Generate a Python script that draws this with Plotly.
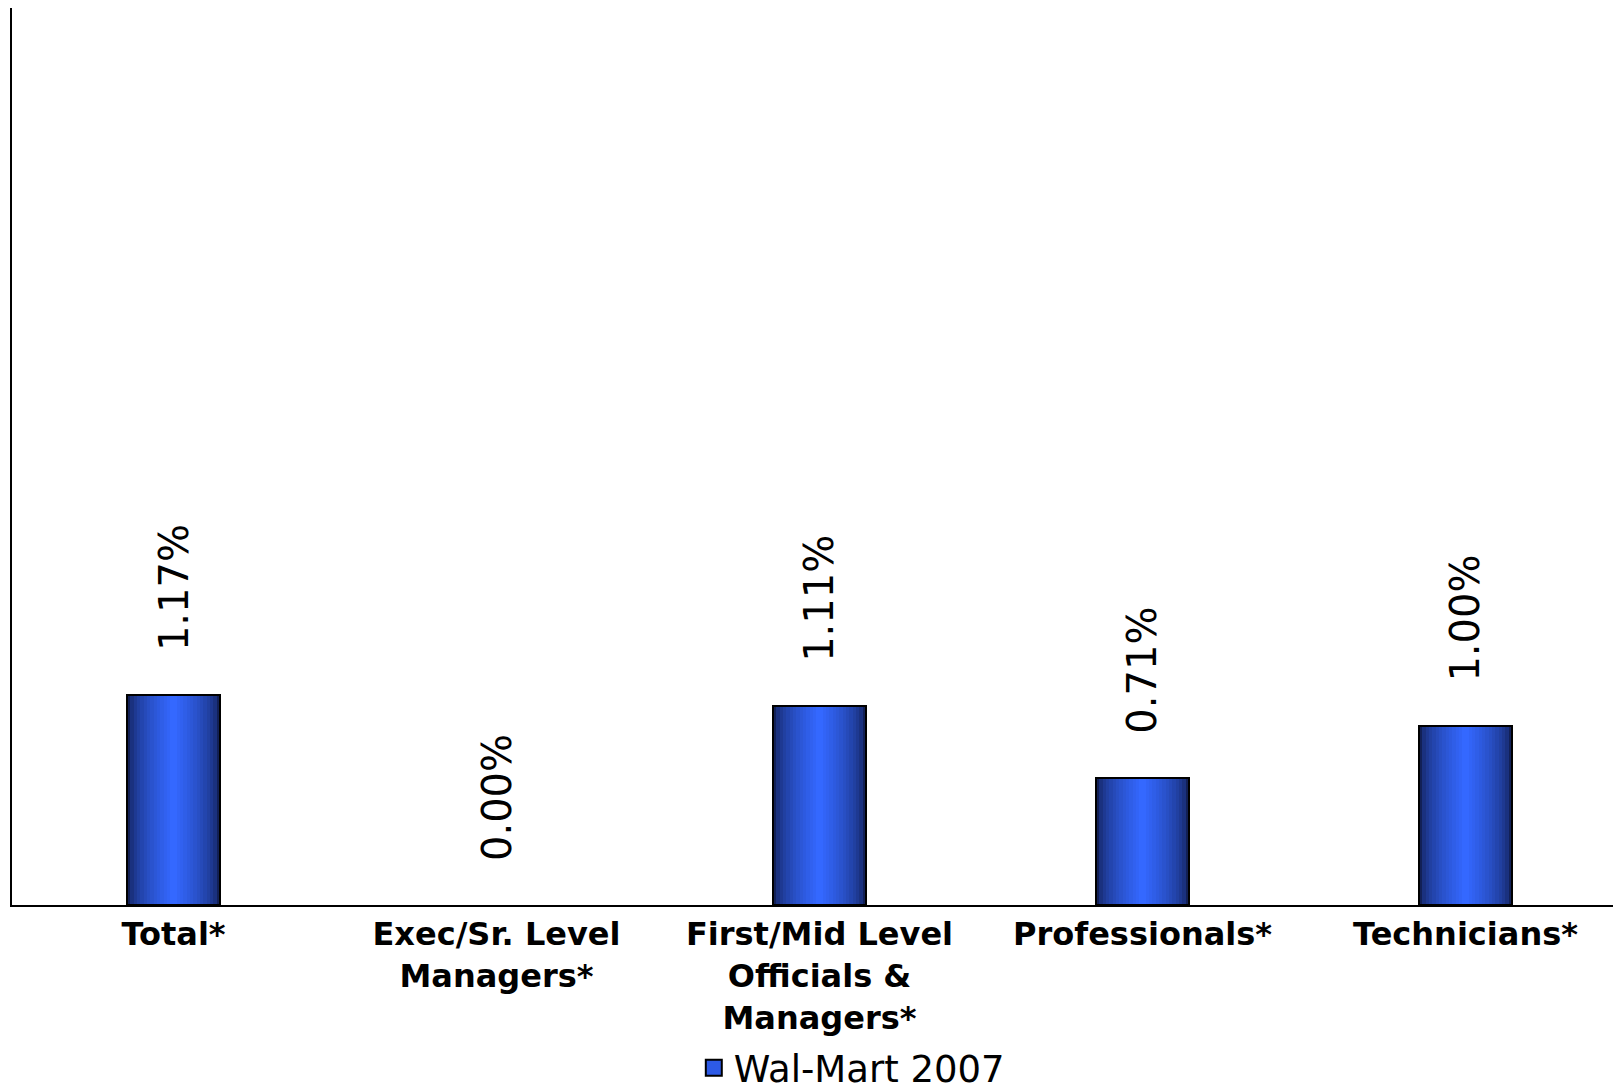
import plotly.graph_objects as go

categories = ["Total*", "Exec/Sr. Level<br>Managers*", "First/Mid Level<br>Officials &<br>Managers*",
              "Professionals*", "Technicians*"]
values = [1.17, 0.00, 1.11, 0.71, 1.00]
labels = ["1.17%", "0.00%", "1.11%", "0.71%", "1.00%"]
series_name = "Wal-Mart 2007"

FONT = "DejaVu Sans, Verdana, sans-serif"
BAR_W = 0.288
EDGE = (18, 32, 86)
CENTER = (52, 104, 255)
N = 14

fig = go.Figure()

# gradient layers (outer dark -> inner bright)
for k in range(N):
    t = k / (N - 1)
    e = t ** 0.55
    c = tuple(int(EDGE[i] + (CENTER[i] - EDGE[i]) * e) for i in range(3))
    fig.add_trace(go.Bar(
        x=categories, y=values, width=BAR_W * (1 - k / N),
        marker=dict(color="rgb(%d,%d,%d)" % c, line=dict(width=0)),
        showlegend=False, hoverinfo="skip"))

# outline (none for zero-height bars)
fig.add_trace(go.Bar(
    x=categories, y=values, width=BAR_W,
    marker=dict(color="rgba(0,0,0,0)",
                line=dict(color="black", width=[2 if v > 0 else 0 for v in values])),
    showlegend=False, hoverinfo="skip"))

# legend entry
fig.add_trace(go.Scatter(
    x=[None], y=[None], mode="markers", name=series_name,
    marker=dict(symbol="square", size=22, color="rgb(45,90,230)",
                line=dict(color="black", width=2))))

for cat, v, lab in zip(categories, values, labels):
    fig.add_annotation(x=cat, y=v, text=lab, textangle=-90, showarrow=False,
                       xanchor="center", yanchor="bottom", yshift=42,
                       font=dict(family=FONT, size=40, color="black"))

fig.update_layout(
    width=1621, height=1089,
    barmode="overlay", bargap=0,
    plot_bgcolor="white", paper_bgcolor="white",
    margin=dict(l=4, r=2, t=0, b=192, autoexpand=False),
    font=dict(family=FONT, color="black"),
    legend=dict(orientation="h", x=0.52, xanchor="center", y=-0.182, yanchor="middle",
                borderwidth=0, tracegroupgap=0,
                font=dict(family=FONT, size=37, color="black"), itemsizing="trace"),
    xaxis=dict(showline=True, linecolor="black", linewidth=2, ticks="",
               range=[-0.5, 4.5], automargin=False,
               tickfont=dict(family=FONT, size=32, color="black", weight="bold"),
               showgrid=False),
    yaxis=dict(range=[0, 5], showline=True, linecolor="black", linewidth=2,
               automargin=False,
               showticklabels=False, ticks="", showgrid=False, zeroline=False),
)

fig.write_html("out.html")
